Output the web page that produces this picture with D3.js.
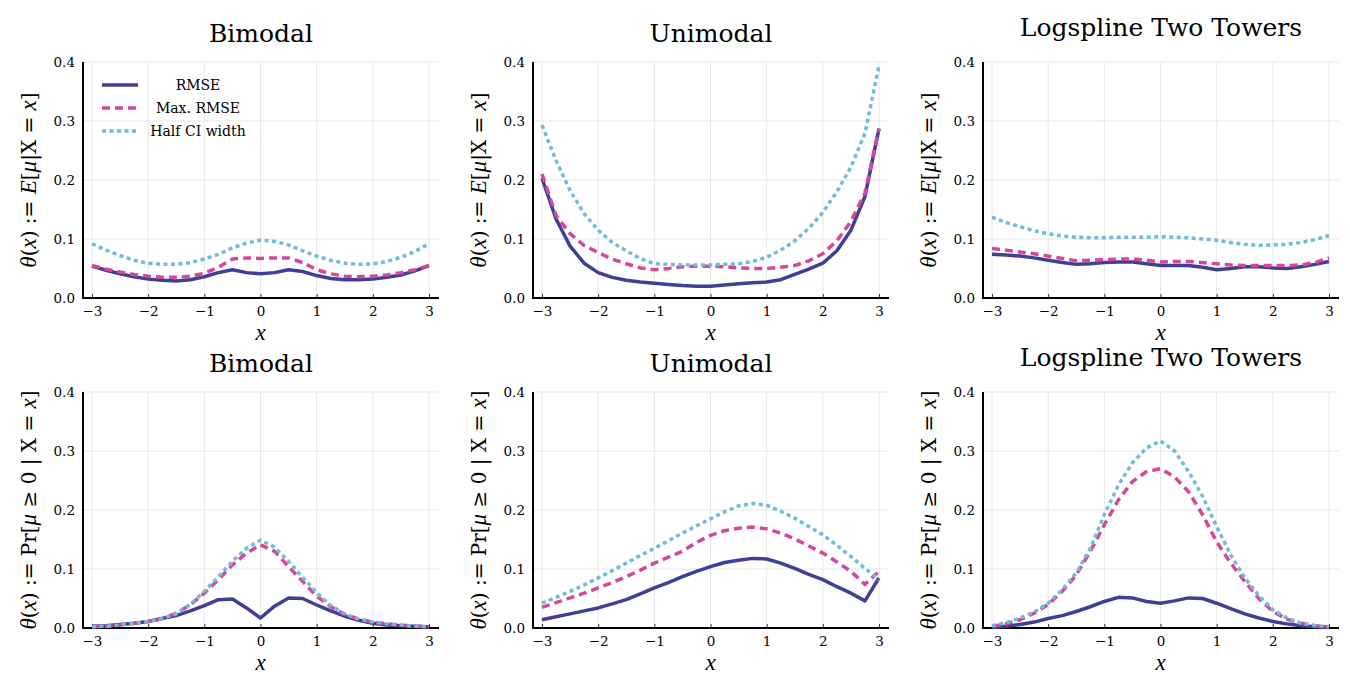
<!DOCTYPE html>
<html>
<head>
<meta charset="utf-8">
<script src="https://cdn.jsdelivr.net/npm/d3@7"></script>
<style>
  body { margin: 0; padding: 0; background: #fff; }
  svg { display: block; font-family: "DejaVu Serif", serif; }
  svg text { font-family: "DejaVu Serif", serif; }
  svg text .it, svg text.it { font-family: "Liberation Serif", serif; font-style: italic; }
</style>
</head>
<body>
<script>
// x grid shared by every panel
var xs = [-3,-2.75,-2.5,-2.25,-2,-1.75,-1.5,-1.25,-1,-0.75,-0.5,-0.25,0,0.25,0.5,0.75,1,1.25,1.5,1.75,2,2.25,2.5,2.75,3];
var xTicks = [-3,-2,-1,0,1,2,3];
var yTicks = [0,0.1,0.2,0.3,0.4];
var seriesNames = ["RMSE", "Max. RMSE", "Half CI width"];

// top row: theta(x) = E[mu | X = x]
var meanBimodalRmse = [.054,.047,.041,.036,.032,.030,.029,.031,.036,.043,.048,.043,.041,.043,.048,.045,.038,.033,.031,.031,.032,.035,.039,.046,.055];
var meanBimodalMax  = [.055,.049,.044,.040,.037,.035,.035,.037,.042,.052,.066,.068,.067,.068,.068,.060,.048,.041,.037,.036,.037,.039,.043,.048,.055];
var meanBimodalHalf = [.092,.081,.072,.064,.059,.057,.057,.060,.066,.074,.085,.093,.098,.096,.090,.080,.071,.064,.059,.057,.058,.062,.069,.079,.092];

var meanUnimodalRmse = [.203,.134,.088,.059,.043,.035,.030,.027,.025,.023,.021,.020,.020,.022,.024,.026,.027,.031,.040,.049,.059,.080,.115,.172,.287];
var meanUnimodalMax  = [.210,.140,.109,.089,.077,.066,.058,.051,.048,.050,.053,.054,.054,.053,.051,.050,.050,.052,.055,.063,.075,.097,.130,.178,.287];
var meanUnimodalHalf = [.293,.233,.182,.143,.115,.094,.080,.067,.058,.057,.056,.056,.056,.057,.058,.062,.069,.081,.097,.118,.145,.180,.222,.279,.394];

var meanTowersRmse = [.074,.073,.071,.068,.064,.060,.057,.058,.060,.061,.061,.058,.055,.055,.055,.052,.048,.050,.053,.053,.051,.050,.053,.057,.062];
var meanTowersMax  = [.084,.081,.078,.075,.071,.067,.063,.064,.065,.066,.066,.064,.061,.062,.062,.060,.058,.056,.055,.055,.055,.055,.056,.060,.068];
var meanTowersHalf = [.137,.128,.121,.114,.109,.105,.103,.102,.102,.103,.103,.103,.104,.103,.102,.100,.098,.094,.091,.089,.090,.091,.094,.099,.106];

// bottom row: theta(x) = Pr[mu >= 0 | X = x]
var probBimodalRmse = [.003,.004,.006,.008,.011,.016,.021,.029,.038,.048,.049,.034,.017,.037,.051,.050,.039,.029,.020,.013,.008,.005,.004,.003,.002];
var probBimodalMax  = [.002,.003,.005,.008,.011,.016,.025,.039,.059,.082,.107,.127,.141,.130,.104,.079,.054,.036,.023,.015,.010,.007,.005,.003,.002];
var probBimodalHalf = [.002,.003,.005,.008,.011,.016,.024,.040,.062,.087,.113,.135,.149,.137,.113,.086,.060,.038,.024,.015,.010,.007,.005,.003,.002];

var probUnimodalRmse = [.014,.019,.024,.029,.034,.041,.048,.058,.068,.077,.087,.096,.104,.111,.115,.118,.117,.110,.101,.091,.082,.070,.059,.046,.085];
var probUnimodalMax  = [.035,.043,.051,.059,.068,.077,.087,.098,.110,.120,.130,.145,.157,.165,.169,.171,.168,.161,.151,.139,.127,.112,.096,.074,.096];
var probUnimodalHalf = [.042,.052,.062,.073,.085,.097,.110,.123,.135,.148,.161,.173,.185,.197,.207,.211,.208,.198,.186,.172,.158,.140,.121,.101,.082];

var probTowersRmse = [.001,.003,.006,.010,.016,.021,.028,.036,.045,.052,.051,.045,.042,.046,.051,.050,.042,.033,.024,.017,.011,.007,.004,.002,.001];
var probTowersMax  = [.003,.007,.014,.025,.040,.062,.090,.130,.175,.217,.248,.265,.270,.256,.231,.192,.146,.110,.079,.050,.028,.015,.008,.004,.002];
var probTowersHalf = [.004,.009,.017,.027,.042,.065,.093,.135,.192,.242,.280,.305,.317,.300,.265,.223,.172,.124,.085,.055,.031,.017,.008,.004,.002];

var W = 1350, H = 689;
var colors = ["#3f3f96", "#d6479a", "#70bcd6"];
var dashes = [null, "8,5", "4,3.5"];

var panels = [
  {title: "Bimodal", row: 0, col: 0, lab: "E", s: [meanBimodalRmse, meanBimodalMax, meanBimodalHalf], legend: true},
  {title: "Unimodal", row: 0, col: 1, lab: "E", s: [meanUnimodalRmse, meanUnimodalMax, meanUnimodalHalf]},
  {title: "Logspline Two Towers", row: 0, col: 2, lab: "E", s: [meanTowersRmse, meanTowersMax, meanTowersHalf]},
  {title: "Bimodal", row: 1, col: 0, lab: "P", s: [probBimodalRmse, probBimodalMax, probBimodalHalf]},
  {title: "Unimodal", row: 1, col: 1, lab: "P", s: [probUnimodalRmse, probUnimodalMax, probUnimodalHalf]},
  {title: "Logspline Two Towers", row: 1, col: 2, lab: "P", s: [probTowersRmse, probTowersMax, probTowersHalf]}
];

var svg = d3.select("body").append("svg").attr("width", W).attr("height", H);

// label pieces: [text, italic?]
var labE = [["θ",1],["(",0],["x",1],[")",0],[" := ",0],["E",1],["[",0],["μ",1],["|X = ",0],["x",1],["]",0]];
var labP = [["θ",1],["(",0],["x",1],[")",0],[" := Pr[",0],["μ",1],[" ≥ 0 | X = ",0],["x",1],["]",0]];

panels.forEach(function(p) {
  var ox = p.col * 450;
  var top = p.row === 0 ? 62 : 392, bot = p.row === 0 ? 298 : 628;
  var g = svg.append("g").attr("transform", "translate(" + ox + ",0)");
  var x = d3.scaleLinear().domain([-3, 3]).range([92, 429]);
  var y = d3.scaleLinear().domain([0, 0.4]).range([bot, top]);
  var left = 83, right = 439;

  // grid
  g.selectAll(".gx").data(xTicks).enter().append("line")
    .attr("x1", function(d){return x(d);}).attr("x2", function(d){return x(d);})
    .attr("y1", top).attr("y2", bot)
    .attr("stroke", "#e6e6e6").attr("stroke-width", 1);
  g.selectAll(".gy").data(yTicks).enter().append("line")
    .attr("x1", left).attr("x2", right)
    .attr("y1", function(d){return y(d);}).attr("y2", function(d){return y(d);})
    .attr("stroke", "#e6e6e6").attr("stroke-width", 1);

  // axes
  var ax = g.append("g").attr("transform", "translate(0," + bot + ")")
    .call(d3.axisBottom(x).tickValues(xTicks).tickSize(-4).tickPadding(8).tickFormat(d3.format("d")));
  ax.attr("font-family", null);
  ax.select(".domain").remove();
  ax.selectAll("line").attr("stroke", "#000").attr("stroke-width", 0.8);
  ax.selectAll("text").attr("font-size", 13.5).attr("fill", "#000");

  var ay = g.append("g").attr("transform", "translate(" + left + ",0)")
    .call(d3.axisLeft(y).tickValues(yTicks).tickSize(0).tickPadding(8).tickFormat(d3.format(".1f")));
  ay.attr("font-family", null);
  ay.select(".domain").remove();
  ay.selectAll("text").attr("font-size", 13.5).attr("fill", "#000");

  g.append("line").attr("x1", left).attr("x2", right).attr("y1", bot).attr("y2", bot)
    .attr("stroke", "#000").attr("stroke-width", 2);
  g.append("line").attr("x1", left).attr("x2", left).attr("y1", top).attr("y2", bot + 1)
    .attr("stroke", "#000").attr("stroke-width", 2);

  // series
  var line = d3.line().x(function(d, i){return x(xs[i]);}).y(function(d){return y(d);});
  p.s.forEach(function(vals, k) {
    g.append("path").datum(vals).attr("d", line)
      .attr("fill", "none").attr("stroke", colors[k]).attr("stroke-width", 3.5)
      .attr("stroke-dasharray", dashes[k]).attr("stroke-linejoin", "round");
  });

  // title
  var desc = /[gpqy]/.test(p.title);
  g.append("text").attr("x", (left + right) / 2).attr("y", (p.row === 0 ? 42 : 372) - (desc ? 6 : 0))
    .attr("text-anchor", "middle").attr("font-size", 25).text(p.title);

  // x label
  g.append("text").attr("class", "it").attr("x", x(0)).attr("y", bot + 42).attr("text-anchor", "middle")
    .attr("font-size", 23).text("x");

  // y label
  var yl = g.append("text").attr("transform", "translate(36," + ((top + bot) / 2) + ") rotate(-90)")
    .attr("text-anchor", "middle").attr("font-size", 20);
  (p.lab === "E" ? labE : labP).forEach(function(part) {
    var t = yl.append("tspan").text(part[0]);
    if (part[1]) t.attr("class", "it").attr("font-size", 23);
  });

  // legend
  if (p.legend) {
    seriesNames.forEach(function(name, k) {
      var ly = 85 + k * 23;
      g.append("line").attr("x1", 102).attr("x2", 138).attr("y1", ly).attr("y2", ly)
        .attr("stroke", colors[k]).attr("stroke-width", 3.5).attr("stroke-dasharray", dashes[k]);
      g.append("text").attr("x", 198).attr("y", ly + 5).attr("text-anchor", "middle")
        .attr("font-size", 14).text(name);
    });
  }
});
</script>
</body>
</html>
